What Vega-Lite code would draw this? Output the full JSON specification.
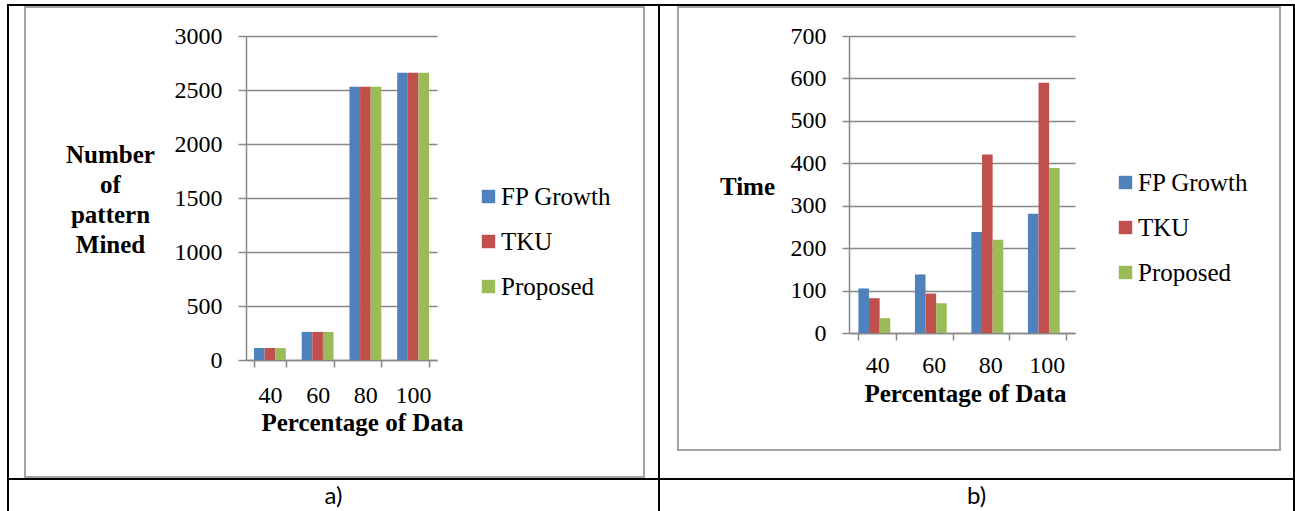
{
  "$schema": "https://vega.github.io/schema/vega-lite/v6.json",
  "background": "white",
  "padding": {"left": 7, "top": 4, "right": 0, "bottom": 0},
  "datasets": {
    "a": [
      {"pct": "40", "algo": "FP Growth", "value": 110},
      {"pct": "40", "algo": "TKU", "value": 110},
      {"pct": "40", "algo": "Proposed", "value": 110},
      {"pct": "60", "algo": "FP Growth", "value": 260},
      {"pct": "60", "algo": "TKU", "value": 260},
      {"pct": "60", "algo": "Proposed", "value": 260},
      {"pct": "80", "algo": "FP Growth", "value": 2530},
      {"pct": "80", "algo": "TKU", "value": 2530},
      {"pct": "80", "algo": "Proposed", "value": 2530},
      {"pct": "100", "algo": "FP Growth", "value": 2660},
      {"pct": "100", "algo": "TKU", "value": 2660},
      {"pct": "100", "algo": "Proposed", "value": 2660}
    ],
    "b": [
      {"pct": "40", "algo": "FP Growth", "value": 105},
      {"pct": "40", "algo": "TKU", "value": 82},
      {"pct": "40", "algo": "Proposed", "value": 35},
      {"pct": "60", "algo": "FP Growth", "value": 138},
      {"pct": "60", "algo": "TKU", "value": 93},
      {"pct": "60", "algo": "Proposed", "value": 70},
      {"pct": "80", "algo": "FP Growth", "value": 238},
      {"pct": "80", "algo": "TKU", "value": 421},
      {"pct": "80", "algo": "Proposed", "value": 220},
      {"pct": "100", "algo": "FP Growth", "value": 281},
      {"pct": "100", "algo": "TKU", "value": 590},
      {"pct": "100", "algo": "Proposed", "value": 389}
    ],
    "capa": [{"t": "a)"}],
    "capb": [{"t": "b)"}],
    "none": []
  },
  "bounds": "flush",
  "spacing": 474,
  "resolve": {"scale": {"color": "independent", "x": "independent", "y": "independent"}, "legend": {"color": "independent"}},
  "vconcat": [
    {
      "bounds": "flush",
      "spacing": 31,
      "resolve": {"scale": {"color": "independent", "x": "independent", "y": "independent"}, "legend": {"color": "independent"}},
      "vconcat": [
        {
          "bounds": "flush",
          "spacing": 2,
          "vconcat": [
            {
              "bounds": "flush",
              "spacing": 0,
              "hconcat": [
                {
                  "width": 651, "height": 474,
                  "data": {"name": "none"},
                  "mark": {"type": "point", "opacity": 0},
                  "encoding": {},
                  "view": {"stroke": "black", "strokeWidth": 2}
                },
                {
                  "width": 635, "height": 474,
                  "data": {"name": "none"},
                  "mark": {"type": "point", "opacity": 0},
                  "encoding": {},
                  "view": {"stroke": "black", "strokeWidth": 2}
                }
              ]
            },
            {
              "bounds": "flush",
              "spacing": 0,
              "hconcat": [
                {
                  "width": 17, "height": 470,
                  "data": {"name": "none"},
                  "mark": {"type": "point", "opacity": 0},
                  "encoding": {}
                },
                {
                  "width": 619, "height": 470,
                  "data": {"name": "none"},
                  "mark": {"type": "point", "opacity": 0},
                  "encoding": {},
                  "view": {"stroke": "#a3a3a3", "strokeWidth": 2}
                },
                {
                  "width": 34, "height": 443,
                  "data": {"name": "none"},
                  "mark": {"type": "point", "opacity": 0},
                  "encoding": {}
                },
                {
                  "width": 602, "height": 443,
                  "data": {"name": "none"},
                  "mark": {"type": "point", "opacity": 0},
                  "encoding": {},
                  "view": {"stroke": "#a3a3a3", "strokeWidth": 2}
                }
              ]
            }
          ]
        },
        {
          "bounds": "flush",
          "spacing": 0,
          "resolve": {"scale": {"color": "independent", "x": "independent", "y": "independent"}, "legend": {"color": "independent"}},
          "hconcat": [
            {
              "width": 238, "height": 324,
              "data": {"name": "none"},
              "mark": {"type": "point", "opacity": 0},
              "encoding": {}
            },
            {
              "width": 191, "height": 324,
              "data": {"name": "a"},
              "mark": {"type": "bar"},
              "encoding": {
                "x": {"field": "pct", "type": "nominal", "sort": ["40", "60", "80", "100"],
                  "scale": {"paddingInner": 0.333, "paddingOuter": 0.1667},
                  "axis": {"title": "Percentage of Data", "labelAngle": 0, "tickBand": "extent", "tickSize": 7, "labelPadding": 16, "titlePadding": 3, "titleX": 116, "grid": false}},
                "xOffset": {"field": "algo", "type": "nominal", "sort": ["FP Growth", "TKU", "Proposed"],
                  "scale": {"paddingInner": 0, "paddingOuter": 0}},
                "y": {"field": "value", "type": "quantitative",
                  "scale": {"domain": [0, 3000], "nice": false},
                  "axis": {"values": [0, 500, 1000, 1500, 2000, 2500, 3000], "format": "d", "title": ["Number", "of", "pattern", "Mined"],
                    "titleAngle": 0, "titleAlign": "center", "titleBaseline": "top", "titleX": -136, "titleY": 106, "titleLineHeight": 30,
                    "tickSize": 8, "labelPadding": 16, "grid": true}},
                "color": {"field": "algo", "type": "nominal",
                  "scale": {"domain": ["FP Growth", "TKU", "Proposed"], "range": ["#4F81BD", "#C0504D", "#9BBB59"]},
                  "legend": {"title": null, "orient": "none", "direction": "vertical", "legendX": 230, "legendY": 148}}
              }
            },
            {
              "width": 412, "height": 297,
              "data": {"name": "none"},
              "mark": {"type": "point", "opacity": 0},
              "encoding": {}
            },
            {
              "width": 226, "height": 297,
              "data": {"name": "b"},
              "mark": {"type": "bar"},
              "encoding": {
                "x": {"field": "pct", "type": "nominal", "sort": ["40", "60", "80", "100"],
                  "scale": {"paddingInner": 0.333, "paddingOuter": 0.1667},
                  "axis": {"title": "Percentage of Data", "labelAngle": 0, "tickBand": "extent", "tickSize": 7, "labelPadding": 13, "titlePadding": 4, "titleX": 116, "grid": false}},
                "xOffset": {"field": "algo", "type": "nominal", "sort": ["FP Growth", "TKU", "Proposed"],
                  "scale": {"paddingInner": 0, "paddingOuter": 0}},
                "y": {"field": "value", "type": "quantitative",
                  "scale": {"domain": [0, 700], "nice": false},
                  "axis": {"values": [0, 100, 200, 300, 400, 500, 600, 700], "format": "d", "title": "Time",
                    "titleAngle": 0, "titleAlign": "center", "titleBaseline": "top", "titleX": -102, "titleY": 138,
                    "tickSize": 7, "labelPadding": 16, "grid": true}},
                "color": {"field": "algo", "type": "nominal",
                  "scale": {"domain": ["FP Growth", "TKU", "Proposed"], "range": ["#4F81BD", "#C0504D", "#9BBB59"]},
                  "legend": {"title": null, "orient": "none", "direction": "vertical", "legendX": 264, "legendY": 134}}
              }
            }
          ]
        }
      ]
    },
    {
      "bounds": "flush",
      "spacing": 0,
      "hconcat": [
        {
          "width": 651, "height": 33,
          "data": {"name": "capa"},
          "mark": {"type": "text", "font": "Lato", "fontSize": 24, "color": "black", "dy": 1},
          "encoding": {"text": {"field": "t", "type": "nominal"}},
          "view": {"stroke": "black", "strokeWidth": 2}
        },
        {
          "width": 635, "height": 33,
          "data": {"name": "capb"},
          "mark": {"type": "text", "font": "Lato", "fontSize": 24, "color": "black", "dy": 1},
          "encoding": {"text": {"field": "t", "type": "nominal"}},
          "view": {"stroke": "black", "strokeWidth": 2}
        }
      ]
    }
  ],
  "config": {
    "view": {"stroke": null},
    "axis": {
      "labelFont": "Liberation Serif", "labelFontSize": 24, "labelColor": "black",
      "titleFont": "Liberation Serif", "titleFontSize": 25, "titleFontWeight": "bold", "titleColor": "black",
      "domainColor": "#888888", "domainWidth": 1.5,
      "tickColor": "#888888", "tickWidth": 1.5,
      "gridColor": "#888888", "gridWidth": 1.5
    },
    "legend": {
      "labelFont": "Liberation Serif", "labelFontSize": 25, "labelColor": "black",
      "symbolType": "square", "symbolSize": 180, "symbolStrokeWidth": 0, "symbolOpacity": 1,
      "rowPadding": 19, "labelOffset": 0, "padding": 0
    }
  }
}
